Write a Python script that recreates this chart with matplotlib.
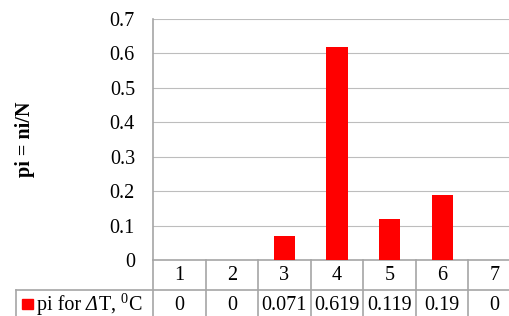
import numpy as np
import matplotlib.pyplot as plt
import matplotlib.transforms as mtransforms

plt.rcParams['font.family'] = 'Liberation Serif'
plt.rcParams['mathtext.fontset'] = 'custom'
plt.rcParams['mathtext.rm'] = 'Liberation Serif'
plt.rcParams['mathtext.it'] = 'Liberation Serif:italic'

# data
categories = ["1", "2", "3", "4", "5", "6", "7"]
pi_values = [0, 0, 0.071, 0.619, 0.119, 0.19, 0]
pi_labels = ["0", "0", "0.071", "0.619", "0.119", "0.19", "0"]
# series name pieces: (text, style)
series_parts = [("pi for ", "normal"), ("Δ", "italic"), (r"T, $^{0}$C", "normal")]
yticks = [0, 0.1, 0.2, 0.3, 0.4, 0.5, 0.6, 0.7]

W, H = 510, 316
fig = plt.figure(figsize=(W / 100, H / 100), dpi=100)

# plot area in pixels (right edge is cut off in the original)
left, right, top, bottom = 153, 521, 19, 260
ax = fig.add_axes([left / W, 1 - bottom / H, (right - left) / W, (bottom - top) / H])

x = np.arange(len(categories))
ax.bar(x, pi_values, width=0.4, color='#ff0000', zorder=3)
ax.set_xlim(-0.5, len(categories) - 0.5)
ax.set_ylim(0, 0.7)
ax.set_yticks(yticks)
ax.set_yticklabels([f"{v:g}" for v in yticks], fontsize=14.5)
ax.tick_params(axis='y', length=0, pad=13)
ax.set_xticks([])
ax.grid(axis='y', color='#bdbdbd', lw=0.8, zorder=0)
for s in ['top', 'right']:
    ax.spines[s].set_visible(False)
ax.spines['left'].set_color('#a6a6a6')
ax.spines['bottom'].set_color('#a6a6a6')
ax.spines['left'].set_linewidth(1.2)
ax.spines['bottom'].set_linewidth(1.2)

ax.set_ylabel("pi = ni/N", fontsize=14.5, fontweight='bold', labelpad=54)

# data table below the plot, positions in figure pixels
pix = mtransforms.Affine2D().scale(1, -1).translate(0, H) + fig.dpi_scale_trans.frozen().inverted() + fig.dpi_scale_trans
colw = (right - left) / len(categories)
row_line = 290
table_bottom = 330
line_kw = dict(color='#a6a6a6', lw=1.2, transform=pix, clip_on=False)

# horizontal line between the rows
fig.add_artist(plt.Line2D([16, right], [row_line, row_line], **line_kw))
# vertical lines
for k in range(len(categories) + 1):
    xv = left + k * colw
    fig.add_artist(plt.Line2D([xv, xv], [bottom, table_bottom], **line_kw))
fig.add_artist(plt.Line2D([16, 16], [row_line, table_bottom], **line_kw))

for k, (c, lab) in enumerate(zip(categories, pi_labels)):
    xc = left + (k + 0.5) * colw
    fig.text(xc, 276, c, transform=pix, ha='center', va='center', fontsize=14.5)
    fig.text(xc, 305, lab, transform=pix, ha='center', va='center', fontsize=14.5)

# legend key in the table
fig.add_artist(plt.Rectangle((22, 299), 11, 10, color='#ff0000', transform=pix, clip_on=False))
renderer = fig.canvas.get_renderer()
xpos = 37
for txt, style in series_parts:
    t = fig.text(xpos, 310, txt, transform=pix, ha='left', va='baseline',
                 fontsize=14.5, fontstyle=style)
    xpos = t.get_window_extent(renderer).x1

fig.savefig("out.png", dpi=100)
